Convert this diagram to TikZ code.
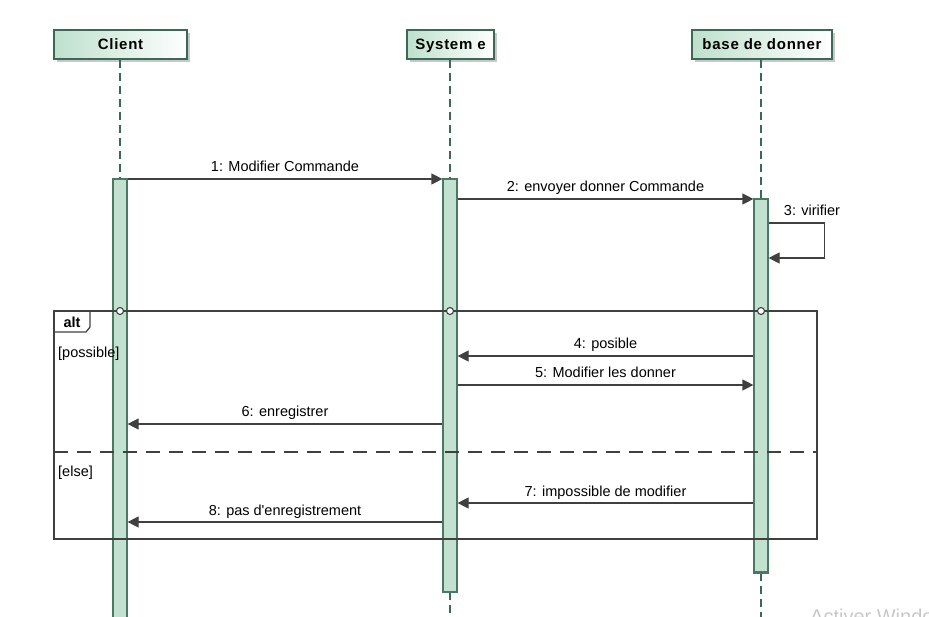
\documentclass[tikz,border=0pt]{standalone}
\usepackage{fontspec}
\setmainfont{Liberation Sans}[Ligatures=TeXOff]
\usetikzlibrary{arrows.meta,shadows}
\definecolor{hdrfill}{RGB}{190,224,205}
\definecolor{hdrline}{RGB}{60,105,85}
\definecolor{actfill}{RGB}{194,225,208}
\definecolor{actline}{RGB}{75,120,98}
\definecolor{msg}{RGB}{64,64,64}
\definecolor{shadowgray}{RGB}{200,200,200}
\definecolor{wmark}{RGB}{200,200,200}
\begin{document}
\begin{tikzpicture}[x=1pt,y=-1pt,
  header/.style={draw=hdrline, line width=1.2pt, left color=hdrfill, right color=white,
    font=\fontsize{15}{17}\selectfont\bfseries\addfontfeature{LetterSpace=5}, inner sep=0pt, minimum height=29pt,
    text height=12.5pt, text depth=1.5pt,
    drop shadow={shadow xshift=3pt, shadow yshift=-3pt, fill=shadowgray, opacity=1}},
  act/.style={draw=actline, fill=actfill, line width=1.2pt, inner sep=0pt, minimum width=14pt},
  life/.style={draw=hdrline, line width=1.1pt, dash pattern=on 8pt off 5pt},
  msgarrow/.style={draw=msg, line width=1.2pt, -{Triangle[length=11pt,width=11pt]}},
  lbltxt/.style={font=\fontsize{14.5}{16}\selectfont, text=black, inner sep=0pt},
  lbl/.style={lbltxt, anchor=base, yshift=7pt},
  frame/.style={draw=msg, line width=1.2pt},
  sep/.style={draw=msg, line width=1.2pt, dash pattern=on 14pt off 9pt},
  guard/.style={anchor=base west, font=\fontsize{14.5}{16}\selectfont, inner sep=0pt},
  knot/.style={circle, draw=msg, fill=white, line width=1.1pt, minimum size=7pt, inner sep=0pt}
]
\useasboundingbox (0,0) rectangle (929,617);

% headers
\node[header, minimum width=133pt] (hC) at (120.5,44.5) {Client};
\node[header, minimum width=87pt]  (hS) at (450.5,44.5) {System e};
\node[header, minimum width=140pt] (hB) at (762,44.5) {base de donner};

% row coordinates
\coordinate (r1) at (0,179);
\coordinate (r2) at (0,199);
\coordinate (r3a) at (0,223);
\coordinate (r3b) at (0,258);
\coordinate (rf) at (0,311);
\coordinate (r4) at (0,356);
\coordinate (r5) at (0,385);
\coordinate (r6) at (0,424);
\coordinate (r7) at (0,503);
\coordinate (r8) at (0,522);

% lifelines
\coordinate (lC) at (120,179);
\coordinate (lS) at (450,179);
\coordinate (lB) at (761,199);
\draw[life] (hC.south -| lC) -- (lC);
\draw[life] (hS.south -| lS) -- (lS);
\draw[life] (hB.south -| lB) -- (lB);
\coordinate (eS) at (450,620);
\coordinate (eB) at (761,620);
\draw[life] (450,592) -- (eS);
\draw[life] (761,573) -- (eB);

% activation bars
\node[act, minimum height=446pt] (aC) at (120,402) {};
\node[act, minimum height=413pt] (aS) at (450,385.5) {};
\node[act, minimum height=374pt] (aB) at (761,386) {};
\draw[actline, line width=1pt] ([yshift=2pt]aB.south west) -- ([yshift=2pt]aB.south east);

% messages before the fragment
\draw[msgarrow] (aC.east |- r1) -- node[lbl]{1: Modifier Commande} (aS.west |- r1);
\draw[msgarrow] (aS.east |- r2) -- node[lbl]{2: envoyer donner Commande} (aB.west |- r2);
\draw[msgarrow] (aB.east |- r3a) -- ++(56,0) |- (aB.east |- r3b);
\node[lbltxt, anchor=base] (l3) at (812,216) {3: virifier};

% alt frame
\coordinate (fTL) at (54,311);
\coordinate (fBR) at (817,539);
\draw[frame] (fTL) rectangle (fBR);
\draw[frame] (54,332) -- (86,332) -- (90,327) -- (90,311);
\node[font=\fontsize{14.5}{16}\selectfont\bfseries, inner sep=0pt] (alt) at (72,322) {alt};
\node[knot] (k1) at (aC |- rf) {};
\node[knot] (k2) at (aS |- rf) {};
\node[knot] (k3) at (aB |- rf) {};
\node[guard] (g1) at (58,358) {[possible]};
\coordinate (sL) at (54,452);
\coordinate (sR) at (817,452);
\draw[sep] (sL) -- (sR);
\node[guard] (g2) at (58,476) {[else]};

% messages inside the fragment
\draw[msgarrow] (aB.west |- r4) -- node[lbl]{4: posible} (aS.east |- r4);
\draw[msgarrow] (aS.east |- r5) -- node[lbl]{5: Modifier les donner} (aB.west |- r5);
\draw[msgarrow] (aS.west |- r6) -- node[lbl]{6: enregistrer} (aC.east |- r6);
\draw[msgarrow] (aB.west |- r7) -- node[lbl]{7: impossible de modifier} (aS.east |- r7);
\draw[msgarrow] (aS.west |- r8) -- node[lbl]{8: pas d'enregistrement} (aC.east |- r8);

% watermark
\node[anchor=base west, inner sep=0pt, text=wmark, font=\fontsize{20}{22}\selectfont] (wm) at (810,623) {Activer Windows};
\end{tikzpicture}
\end{document}
